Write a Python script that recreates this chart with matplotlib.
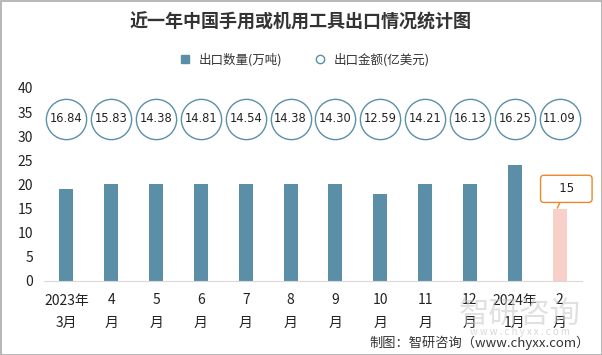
import matplotlib
matplotlib.use("Agg")
import matplotlib.pyplot as plt
from matplotlib.lines import Line2D
from matplotlib.patches import Rectangle

plt.rcParams['font.family'] = ['Noto Sans CJK SC', 'DejaVu Sans']

categories = ["2023年\n3月", "4\n月", "5\n月", "6\n月", "7\n月", "8\n月", "9\n月",
              "10\n月", "11\n月", "12\n月", "2024年\n1月", "2\n月"]
quantity = [19, 20, 20, 20, 20, 20, 20, 18, 20, 20, 24, 15]
value = [16.84, 15.83, 14.38, 14.81, 14.54, 14.38, 14.30, 12.59, 14.21, 16.13, 16.25, 11.09]
yticks = [0, 5, 10, 15, 20, 25, 30, 35, 40]

bar_color = "#5B8FA8"
last_color = "#F8D0C8"
circle_y = 33.6

fig = plt.figure(figsize=(6.02, 3.55), dpi=100)
fig.patch.set_facecolor("white")
ax = fig.add_axes([44/602, 1 - 281/355, 538/602, 193/355])

x = list(range(len(categories)))
colors = [bar_color] * (len(x) - 1) + [last_color]
ax.bar(x, quantity, width=0.31, color=colors, zorder=2)

ax.scatter(x, [circle_y] * len(x), s=29**2, facecolors="white",
           edgecolors="#5B8FA8", linewidths=1.0, zorder=3)
for xi, v in zip(x, value):
    ax.text(xi, circle_y, f"{v:.2f}", ha="center", va="center", fontsize=8.3,
            color="#222222", zorder=4, family=['DejaVu Sans'])

# callout for last bar
lx = x[-1]
ly = quantity[-1]
ax.annotate(f"   {ly}   ", xy=(lx - 0.05, ly + 0.1), xytext=(lx + 0.15, ly + 4.1),
            ha="center", va="center", fontsize=8.5, color="#222222",
            bbox=dict(boxstyle="round,pad=0.6,rounding_size=0.3", fc="white",
                      ec="#E8892B", lw=1.0),
            arrowprops=dict(arrowstyle="-", color="#E8892B", lw=1.0, shrinkA=0, shrinkB=0),
            zorder=5, family=['DejaVu Sans'])

ax.set_xlim(-0.5, len(x) - 0.5)
ax.set_ylim(0, 40)
ax.set_yticks(yticks)
ax.set_xticks(x)
ax.set_xticklabels(categories, fontsize=10, color="#222222", linespacing=1.75)
ax.tick_params(axis="y", labelsize=10, colors="#222222", length=0, pad=8)
ax.tick_params(axis="x", length=0, pad=9)
for s in ["top", "right", "left"]:
    ax.spines[s].set_visible(False)
ax.spines["bottom"].set_color("#D9D9D9")

fig.text(0.5, 1 - 22/355, "近一年中国手用或机用工具出口情况统计图", ha="center", va="center",
         fontsize=13, fontweight="bold", color="#333333")

handles = [Line2D([0], [0], marker="s", ls="none", color=bar_color, markersize=6),
           Line2D([0], [0], marker="o", ls="none", markerfacecolor="white",
                  markeredgecolor="#5B8FA8", markersize=6)]
fig.legend(handles, ["出口数量(万吨)", "出口金额(亿美元)"], loc="center",
           bbox_to_anchor=(0.5, 1 - 60/355), ncol=2, frameon=False, fontsize=9,
           handletextpad=0.1, columnspacing=2.0, labelcolor="#333333")

# watermark
fig.text(520/602, 1 - 314/355, "智研咨询", ha="center", va="center", fontsize=22,
         color="#C8C8C8", alpha=0.55)
fig.text(520/602, 1 - 332/355, "w w w . c h y x x . c o m", ha="center", va="center",
         fontsize=7, color="#C8C8C8", alpha=0.7)

fig.text(590/602, 1 - 343/355, "制图：智研咨询（www.chyxx.com）", ha="right", va="center",
         fontsize=9.5, color="#333333")

fig.add_artist(Rectangle((0.5/602, 0.5/355), 1 - 1/602, 1 - 1/355, transform=fig.transFigure,
                         fill=False, ec="#AAAAAA", lw=1.2))

fig.savefig("out.png", dpi=100, facecolor="white")
